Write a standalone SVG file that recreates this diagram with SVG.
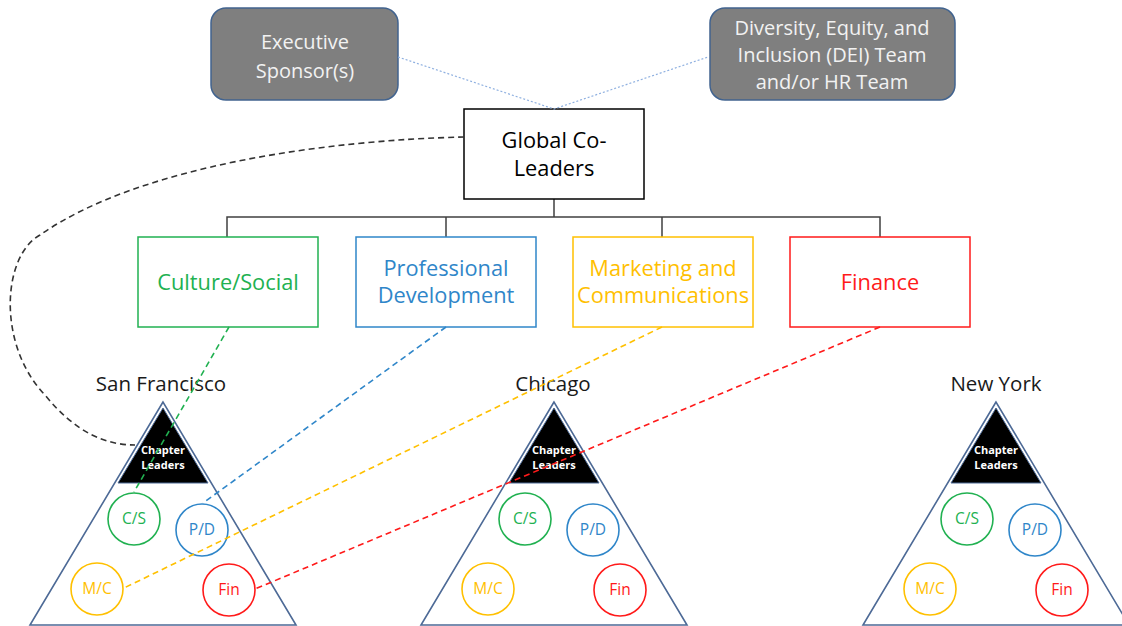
<svg xmlns="http://www.w3.org/2000/svg" width="1122" height="626" viewBox="0 0 1122 626">
  <defs>
    <style>
      text { font-family: "Open Sans", Lato, "Liberation Sans", sans-serif; text-anchor: middle; }
      .sponsor rect { fill: #7f7f7f; stroke: #41638f; stroke-width: 1.5; }
      .sponsor text { fill: #f2f2f2; font-size: 20px; }
      .box { fill: #ffffff; stroke-width: 1.5; }
      .lbl { font-size: 21.8px; }
      .city { fill: #1a1a1a; font-size: 20.5px; }
      .tri { fill: #ffffff; stroke: #4d6a96; stroke-width: 1.6; }
      .lead { fill: #000000; stroke: #4d6a96; stroke-width: 1; }
      .lead-t { fill: #ffffff; font-size: 11px; font-weight: bold; }
      .c { fill: #ffffff; stroke-width: 1.6; }
      .ct { font-size: 15.5px; }
      .green { stroke: #21b151; } .tgreen { fill: #21b151; }
      .blue { stroke: #2f86c9; } .tblue { fill: #2f86c9; }
      .yellow { stroke: #ffc000; } .tyellow { fill: #ffc000; }
      .red { stroke: #ff1a1a; } .tred { fill: #ff1a1a; }
      .tree { fill: none; stroke: #404040; stroke-width: 1.5; }
      .dot { fill: none; stroke: #8fb0e0; stroke-width: 1.2; stroke-dasharray: 2 2; }
      .dash { fill: none; stroke-width: 1.6; stroke-dasharray: 6 4; }
    </style>
    <!-- one chapter: outer triangle, leader cap, four committee circles -->
    <g id="chapter">
      <polygon class="tri" points="0,0 -133,223 133,223"/>
      <polygon class="lead" points="0,6 -45,81 45,81"/>
      <text class="lead-t" x="0" y="52">Chapter</text>
      <text class="lead-t" x="0" y="67">Leaders</text>
      <circle class="c green" cx="-29" cy="117" r="26"/>
      <text class="ct tgreen" x="-29" y="122">C/S</text>
      <circle class="c blue" cx="39" cy="128" r="26"/>
      <text class="ct tblue" x="39" y="133">P/D</text>
      <circle class="c yellow" cx="-66" cy="187" r="26"/>
      <text class="ct tyellow" x="-66" y="192">M/C</text>
      <circle class="c red" cx="66" cy="188" r="26"/>
      <text class="ct tred" x="66" y="193">Fin</text>
    </g>
  </defs>

  <rect width="1122" height="626" fill="#ffffff"/>

  <!-- reporting tree below the global co-leaders -->
  <g id="tree-connectors">
    <path class="tree" d="M554,199 V217 M227,237 V217 H880 V237 M446,217 V237 M662,217 V237"/>
  </g>

  <g id="exec-sponsor" class="sponsor">
    <rect x="211" y="8" width="187" height="92" rx="15"/>
    <text x="305" y="49">Executive</text>
    <text x="305" y="78">Sponsor(s)</text>
  </g>

  <g id="dei-team" class="sponsor">
    <rect x="710" y="8" width="245" height="92" rx="15"/>
    <text x="832" y="35">Diversity, Equity, and</text>
    <text x="832" y="62">Inclusion (DEI) Team</text>
    <text x="832" y="89">and/or HR Team</text>
  </g>

  <g id="global-co-leaders">
    <rect class="box" x="464" y="109" width="180" height="90" stroke="#000000"/>
    <text class="lbl" x="554" y="148" fill="#000000">Global Co-</text>
    <text class="lbl" x="554" y="176" fill="#000000">Leaders</text>
  </g>

  <g id="culture-social">
    <rect class="box green" x="138" y="237" width="180" height="90"/>
    <text class="lbl tgreen" x="228" y="290">Culture/Social</text>
  </g>

  <g id="professional-development">
    <rect class="box blue" x="356" y="237" width="180" height="90"/>
    <text class="lbl tblue" x="446" y="276">Professional</text>
    <text class="lbl tblue" x="446" y="303">Development</text>
  </g>

  <g id="marketing-communications">
    <rect class="box yellow" x="573" y="237" width="180" height="90"/>
    <text class="lbl tyellow" x="663" y="276">Marketing and</text>
    <text class="lbl tyellow" x="663" y="303">Communications</text>
  </g>

  <g id="finance">
    <rect class="box red" x="790" y="237" width="180" height="90"/>
    <text class="lbl tred" x="880" y="290">Finance</text>
  </g>

  <g id="san-francisco">
    <text class="city" x="161" y="391">San Francisco</text>
    <use href="#chapter" x="163" y="402"/>
  </g>

  <g id="chicago">
    <text class="city" x="553" y="391">Chicago</text>
    <use href="#chapter" x="554" y="402"/>
  </g>

  <g id="new-york">
    <text class="city" x="996" y="391">New York</text>
    <use href="#chapter" x="996" y="402"/>
  </g>

  <!-- dotted and dashed links -->
  <g id="links">
    <path class="dot" d="M398,57 L554,109 L708,57"/>
    <path class="dash" stroke="#333333" d="M464,137 C330,140 140,165 40,235 C2,256 -3,345 45,395 C75,432 105,445 135,445"/>
    <path class="dash green" d="M229,327 L134,492"/>
    <path class="dash blue" d="M446,327 L203,503"/>
    <path class="dash yellow" d="M662,327 L124,588"/>
    <path class="dash red" d="M880,327 L255,589"/>
  </g>
</svg>
